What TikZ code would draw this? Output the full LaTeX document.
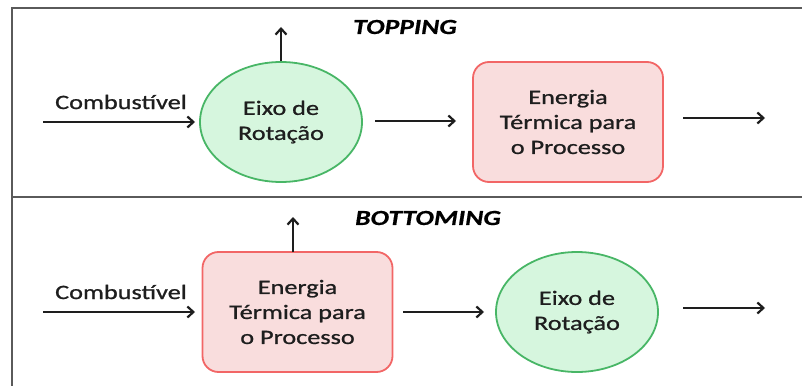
\documentclass[tikz,border=0pt]{standalone}
\usepackage{fontspec}
\setmainfont[FakeStretch=1.28, FakeBold=0.9]{Carlito}
\newfontfamily\ttlfont[FakeStretch=1.28, FakeBold=0.6]{Carlito}
\usetikzlibrary{shapes.geometric,arrows.meta}
\definecolor{gfill}{HTML}{D6F6DE}
\definecolor{gdraw}{HTML}{48B666}
\definecolor{rfill}{HTML}{F9DDDD}
\definecolor{rdraw}{HTML}{F26666}
\definecolor{frame}{HTML}{5A5A5A}
\definecolor{ink}{HTML}{1E1E1E}
\tikzset{
  x=1pt, y=-1pt,
  lbl/.style={font=\fontsize{20.5}{25}\selectfont, text=ink, align=center, inner sep=0pt},
  shaft/.style={ink, line width=2.2pt, -{Straight Barb[length=6pt,width=11pt,line width=2.2pt]}},
  eixo/.style={ellipse, draw=gdraw, fill=gfill, line width=1.8pt, minimum width=162pt, minimum height=120pt, inner sep=0pt},
  energ/.style={rectangle, rounded corners=16pt, draw=rdraw, fill=rfill, line width=1.8pt, minimum width=190pt, minimum height=120pt, inner sep=0pt},
  ttl/.style={font=\ttlfont\fontsize{21.5}{25}\selectfont\bfseries\itshape, text=black, inner sep=0pt},
  fr/.style={draw=frame, line width=2.2pt}
}
\begin{document}
\begin{tikzpicture}
\useasboundingbox (0,0) rectangle (802,385);
% frame
\draw[fr] (12,386) -- (12,8) -- (803,8);
\draw[fr] (12,197) -- (803,197);

% TOPPING
\node[ttl] (t1) at (405,27) {TOPPING};
\node[eixo, lbl] (e1) at (281,122) {Eixo de\\Rotação};
\node[energ, lbl] (b1) at (568,122) {Energia\\Térmica para\\o Processo};
\node[lbl] (c1) at (121,102) {Combustível};
\coordinate (in1) at (43,122);
\coordinate (ina1) at (195,122);
\coordinate (up1) at (281,27);
\coordinate (m1a) at (375,121);
\coordinate (m1b) at (456,121);
\coordinate (o1a) at (683,118);
\coordinate (o1b) at (765,118);
\draw[shaft] (in1) -- (ina1);
\draw[shaft] (e1.north) -- (up1);
\draw[shaft] (m1a) -- (m1b);
\draw[shaft] (o1a) -- (o1b);

% BOTTOMING
\node[ttl] (t2) at (428,218) {BOTTOMING};
\node[energ, lbl] (b2) at (297.5,312) {Energia\\Térmica para\\o Processo};
\node[eixo, lbl] (e2) at (577,312) {Eixo de\\Rotação};
\node[lbl] (c2) at (121,292) {Combustível};
\coordinate (in2) at (43,312);
\coordinate (ina2) at (195,312);
\coordinate (up2) at (293,217);
\coordinate (b2top) at (293,252);
\coordinate (m2a) at (403,312);
\coordinate (m2b) at (484,312);
\coordinate (o2a) at (683,308);
\coordinate (o2b) at (765,308);
\draw[shaft] (in2) -- (ina2);
\draw[shaft] (b2top) -- (up2);
\draw[shaft] (m2a) -- (m2b);
\draw[shaft] (o2a) -- (o2b);
\end{tikzpicture}
\end{document}
